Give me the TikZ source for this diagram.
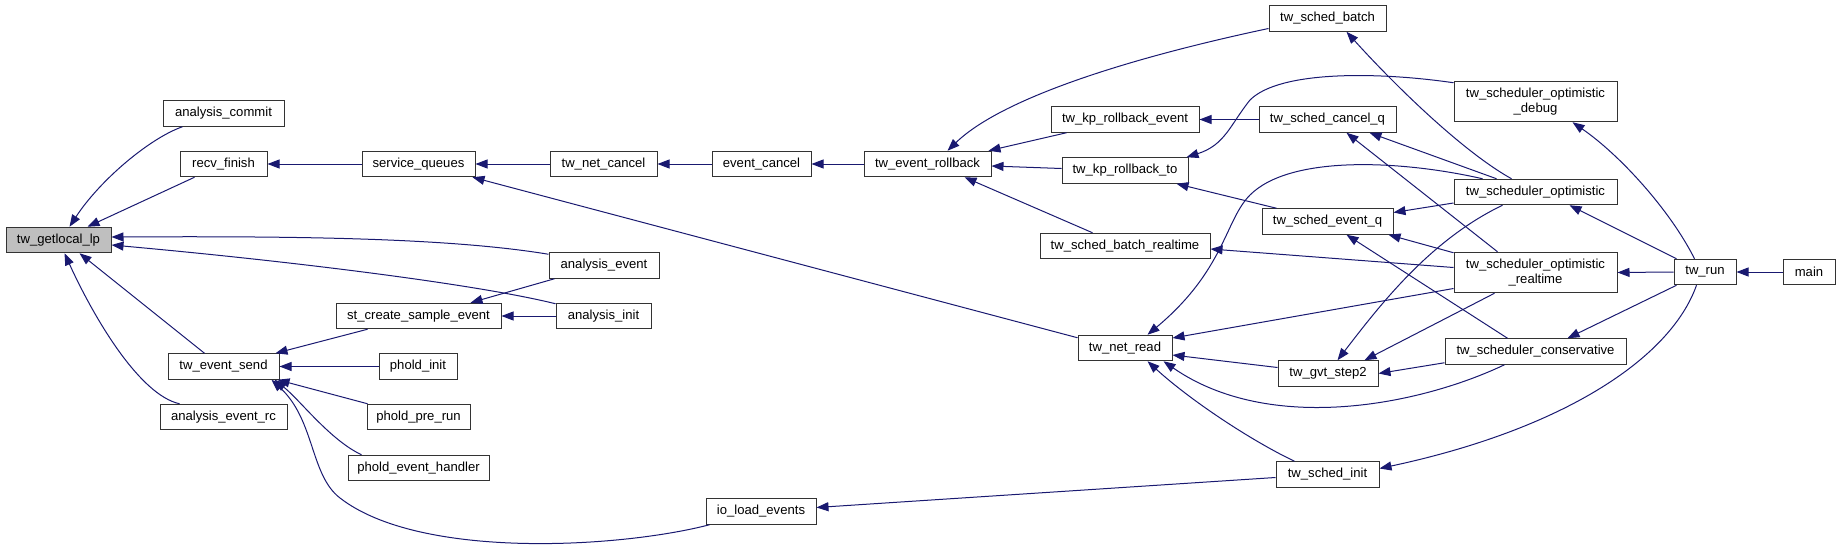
\documentclass[tikz,border=0pt]{standalone}
\usepackage{fontspec}
\setmainfont{Liberation Sans}
\usetikzlibrary{arrows.meta,calc}
\definecolor{edgeblue}{HTML}{191970}
\begin{document}
\begin{tikzpicture}[x=1pt,y=-1pt,
  box/.style={draw=black!80, line width=1pt, fill=white, inner sep=0pt,
    minimum height=25.5pt, align=center, font=\fontsize{13.1}{15}\selectfont},
  tall/.style={minimum height=40.5pt},
  edge/.style={draw=edgeblue, line width=1pt,
    -{Triangle[length=12pt,width=9pt,fill=edgeblue]}}]
\useasboundingbox (0,0) rectangle (1840,551);
% nodes
\node[box, fill=black!25, minimum width=105pt] (getlocal) at (58.5,240) {tw\_getlocal\_lp};
\node[box, minimum width=121pt] (acommit) at (223.5,113.5) {analysis\_commit};
\node[box, minimum width=87pt] (recv) at (223.5,164) {recv\_finish};
\node[box, minimum width=111pt] (evsend) at (223.5,366.5) {tw\_event\_send};
\node[box, minimum width=127pt] (aevrc) at (223.5,417) {analysis\_event\_rc};
\node[box, minimum width=113pt] (squeues) at (418.5,164) {service\_queues};
\node[box, minimum width=165pt] (stcreate) at (418.5,316) {st\_create\_sample\_event};
\node[box, minimum width=78pt] (pinit) at (418,366.5) {phold\_init};
\node[box, minimum width=103pt] (ppre) at (418.5,417) {phold\_pre\_run};
\node[box, minimum width=141pt] (phandler) at (418.5,468) {phold\_event\_handler};
\node[box, minimum width=107pt] (netcancel) at (603.5,164) {tw\_net\_cancel};
\node[box, minimum width=110pt] (aevent) at (604,265.5) {analysis\_event};
\node[box, minimum width=95pt] (ainit) at (603.5,316) {analysis\_init};
\node[box, minimum width=99pt] (evcancel) at (761.5,164) {event\_cancel};
\node[box, minimum width=110pt] (ioload) at (761,511.5) {io\_load\_events};
\node[box, minimum width=127pt] (rollback) at (927.5,164) {tw\_event\_rollback};
\node[box, minimum width=148pt] (kprbev) at (1125,119.5) {tw\_kp\_rollback\_event};
\node[box, minimum width=126pt] (kprbto) at (1125,170.5) {tw\_kp\_rollback\_to};
\node[box, minimum width=170pt] (batchrt) at (1125,246) {tw\_sched\_batch\_realtime};
\node[box, minimum width=94pt] (netread) at (1125,348) {tw\_net\_read};
\node[box, minimum width=117pt] (batch) at (1327.5,18.5) {tw\_sched\_batch};
\node[box, minimum width=137pt] (cancelq) at (1327.5,119.5) {tw\_sched\_cancel\_q};
\node[box, minimum width=131pt] (eventq) at (1327.5,221.5) {tw\_sched\_event\_q};
\node[box, minimum width=100pt] (gvt) at (1328,373.5) {tw\_gvt\_step2};
\node[box, minimum width=103pt] (sinit) at (1327.5,474.5) {tw\_sched\_init};
\node[box, tall, minimum width=163pt] (optdebug) at (1535.5,101.5) {tw\_scheduler\_optimistic\\\_debug};
\node[box, minimum width=163pt] (opt) at (1535.5,192) {tw\_scheduler\_optimistic};
\node[box, tall, minimum width=163pt] (optrt) at (1535.5,272.5) {tw\_scheduler\_optimistic\\\_realtime};
\node[box, minimum width=181pt] (cons) at (1535.5,351.5) {tw\_scheduler\_conservative};
\node[box, minimum width=62pt] (run) at (1705,272) {tw\_run};
\node[box, minimum width=52pt] (main) at (1809,272) {main};
% edges (caller -> callee)
\draw[edge] ($(acommit.south west)+(20,0)$) .. controls (150,138) and (100,180) .. ($(getlocal.north west)+(64,0)$);
\draw[edge] ($(recv.south west)+(15,0)$) -- ($(getlocal.north west)+(82,0)$);
\draw[edge] ($(aevent.north west)+(0,2)$) .. controls (450,238) and (300,236) .. ($(getlocal.east)+(0,-3)$);
\draw[edge] ($(ainit.north west)+(0,1)$) .. controls (480,285) and (300,262) .. ($(getlocal.east)+(0,5)$);
\draw[edge] ($(evsend.north west)+(37,0)$) -- ($(getlocal.south west)+(74,0)$);
\draw[edge] ($(aevrc.north west)+(20,0)$) .. controls (140,395) and (95,320) .. ($(getlocal.south west)+(59,0)$);
\draw[edge] (squeues.west) -- (recv.east);
\draw[edge] ($(stcreate.south west)+(32,0)$) -- ($(evsend.north east)+(-4,0)$);
\draw[edge] (pinit.west) -- (evsend.east);
\draw[edge] ($(ppre.north west)+(1,0)$) -- ($(evsend.south east)+(-2,0)$);
\draw[edge] ($(phandler.north west)+(14,0)$) .. controls (330,440) and (300,400) .. ($(evsend.south east)+(-5,0)$);
\draw[edge] ($(ioload.south west)+(4,0)$) .. controls (620,548) and (420,560) .. (340,498) .. controls (310,475) and (315,420) .. ($(evsend.south east)+(-8,0)$);
\draw[edge] (netcancel.west) -- (squeues.east);
\draw[edge] ($(netread.north west)+(0,3)$) -- ($(squeues.south east)+(-3,0)$);
\draw[edge] ($(aevent.south west)+(6,0)$) -- ($(stcreate.north east)+(-31,0)$);
\draw[edge] (ainit.west) -- (stcreate.east);
\draw[edge] (evcancel.west) -- (netcancel.east);
\draw[edge] (rollback.west) -- (evcancel.east);
\draw[edge] ($(sinit.west)+(0,3)$) -- ($(ioload.east)+(0,-4)$);
\draw[edge] ($(batch.west)+(0,10)$) .. controls (1120,60) and (1000,100) .. ($(rollback.north east)+(-44,0)$);
\draw[edge] ($(kprbev.south west)+(16,0)$) -- ($(rollback.north east)+(-3,0)$);
\draw[edge] ($(kprbto.west)+(0,-2)$) -- ($(rollback.east)+(0,2)$);
\draw[edge] ($(batchrt.north west)+(53,0)$) -- ($(rollback.south east)+(-27,0)$);
\draw[edge] (cancelq.west) -- (kprbev.east);
\draw[edge] ($(optdebug.north west)+(0,2)$) .. controls (1380,72) and (1280,70) .. (1250,100) .. controls (1230,125) and (1225,145) .. ($(kprbto.north east)+(-2,0)$);
\draw[edge] ($(eventq.north west)+(15,0)$) -- ($(kprbto.south east)+(-12,0)$);
\draw[edge] ($(opt.north west)+(58,0)$) .. controls (1460,150) and (1390,80) .. ($(batch.south west)+(78,0)$);
\draw[edge] ($(opt.north west)+(43,0)$) -- ($(cancelq.south east)+(-27,0)$);
\draw[edge] ($(optrt.north west)+(44,0)$) -- ($(cancelq.south west)+(88,0)$);
\draw[edge] ($(opt.west)+(0,11)$) -- ($(eventq.east)+(0,-9)$);
\draw[edge] ($(optrt.north west)+(0,1)$) -- ($(eventq.south east)+(-5,0)$);
\draw[edge] ($(cons.north west)+(63,0)$) -- ($(eventq.south west)+(85,0)$);
\draw[edge] ($(optrt.west)+(0,-5)$) -- ($(batchrt.east)+(0,3)$);
\draw[edge] ($(optrt.west)+(0,16)$) -- ($(netread.east)+(0,-10)$);
\draw[edge] ($(opt.north west)+(29,0)$) .. controls (1400,160) and (1290,155) .. (1250,195) .. controls (1225,220) and (1225,270) .. ($(netread.north west)+(70,0)$);
\draw[edge] ($(optrt.south west)+(41,0)$) -- ($(gvt.north east)+(-14,0)$);
\draw[edge] ($(opt.south west)+(49,0)$) .. controls (1430,240) and (1380,305) .. ($(gvt.north west)+(60,0)$);
\draw[edge] ($(cons.south west)+(0,-2)$) -- (gvt.east);
\draw[edge] ($(cons.south west)+(60,0)$) .. controls (1420,405) and (1270,435) .. ($(netread.south east)+(-9,0)$);
\draw[edge] ($(gvt.west)+(0,-6)$) -- ($(netread.east)+(0,7)$);
\draw[edge] ($(sinit.north west)+(19,0)$) .. controls (1250,440) and (1190,400) .. ($(netread.south west)+(70,0)$);
\draw[edge] ($(run.north west)+(21,0)$) .. controls (1670,210) and (1620,155) .. ($(optdebug.south west)+(119,0)$);
\draw[edge] ($(run.north west)+(3,0)$) -- ($(opt.south west)+(116,0)$);
\draw[edge] (run.west) -- (optrt.east);
\draw[edge] ($(run.south west)+(3,0)$) -- ($(cons.north west)+(123,0)$);
\draw[edge] ($(run.south west)+(23,0)$) .. controls (1670,360) and (1560,430) .. ($(sinit.east)+(0,-6)$);
\draw[edge] (main.west) -- (run.east);
\end{tikzpicture}
\end{document}
